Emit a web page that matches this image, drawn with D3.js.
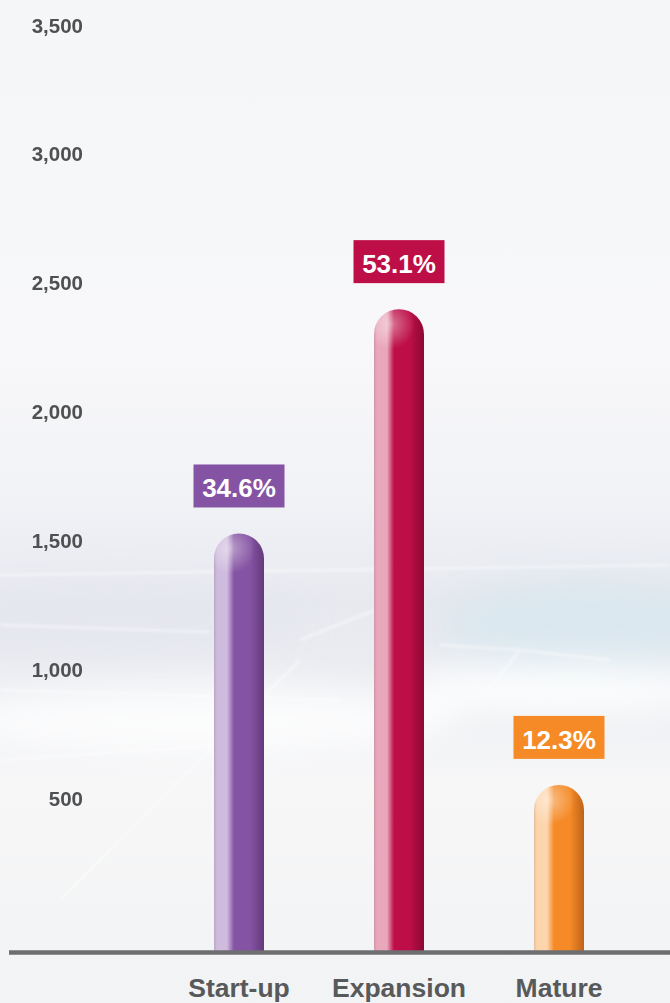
<!DOCTYPE html>
<html>
<head>
<meta charset="utf-8">
<script src="https://cdn.jsdelivr.net/npm/d3@7"></script>
<style>
  html, body { margin: 0; padding: 0; background: #f5f6f8; }
  svg { display: block; }
  .tick text { font-family: "Liberation Sans", Arial, sans-serif; font-weight: bold; }
</style>
</head>
<body>
<div id="chart"></div>
<script>
const categories = ["Start-up", "Expansion", "Mature"];
const values = [1530, 2400, 555];
const shares = ["34.6%", "53.1%", "12.3%"];
const yTicks = [500, 1000, 1500, 2000, 2500, 3000, 3500];

const colors = [
    { light: "#cfbbdd", main: "#8553a3", dark: "#633a7c" },
    { light: "#e9a7bc", main: "#bd0e47", dark: "#8c0834" },
    { light: "#fdd5ad", main: "#f58a27", dark: "#bf6319" }
];

const width = 670, height = 1003;
const baseY = 952;
const barWidth = 50;

const svg = d3.select("#chart")
    .append("svg")
    .attr("width", width)
    .attr("height", height);

const defs = svg.append("defs");

// background
const bg = defs.append("linearGradient").attr("id", "bg")
    .attr("x1", 0).attr("y1", 0).attr("x2", 0).attr("y2", 1);
bg.append("stop").attr("offset", 0).attr("stop-color", "#f4f6f8");
bg.append("stop").attr("offset", 0.35).attr("stop-color", "#f8f8fa");
bg.append("stop").attr("offset", 0.5).attr("stop-color", "#f1f2f6");
bg.append("stop").attr("offset", 0.6).attr("stop-color", "#e7e9ef");
bg.append("stop").attr("offset", 0.7).attr("stop-color", "#eceef2");
bg.append("stop").attr("offset", 0.78).attr("stop-color", "#f7f7f8");
bg.append("stop").attr("offset", 1).attr("stop-color", "#f2f3f4");

const blur = defs.append("filter").attr("id", "blur")
    .attr("x", "-50%").attr("y", "-50%").attr("width", "200%").attr("height", "200%");
blur.append("feGaussianBlur").attr("stdDeviation", 18);
const soft = defs.append("filter").attr("id", "soft");
soft.append("feGaussianBlur").attr("stdDeviation", 1.8);

svg.append("rect").attr("width", width).attr("height", height).attr("fill", "url(#bg)");

const haze = svg.append("g").attr("filter", "url(#blur)");
haze.append("ellipse").attr("cx", 590).attr("cy", 625).attr("rx", 150).attr("ry", 45)
    .attr("fill", "#d6e5ed").attr("opacity", 0.75);
haze.append("ellipse").attr("cx", 200).attr("cy", 720).attr("rx", 260).attr("ry", 35)
    .attr("fill", "#ffffff").attr("opacity", 0.8);
haze.append("ellipse").attr("cx", 560).attr("cy", 690).attr("rx", 160).attr("ry", 25)
    .attr("fill", "#ffffff").attr("opacity", 0.9);
haze.append("ellipse").attr("cx", 120).attr("cy", 620).attr("rx", 180).attr("ry", 30)
    .attr("fill", "#e4e6ee").attr("opacity", 0.7);

const streaks = svg.append("g").attr("stroke", "#ffffff").attr("fill", "none")
    .attr("filter", "url(#soft)").attr("opacity", 0.5);
[
    [[0, 575], [670, 565]],
    [[0, 625], [210, 632]],
    [[440, 645], [520, 650], [610, 660]],
    [[520, 650], [480, 700]],
    [[0, 690], [340, 700]],
    [[60, 900], [300, 660]],
    [[0, 760], [230, 745]],
    [[300, 640], [400, 600]]
].forEach(pts => {
    streaks.append("path").attr("d", d3.line()(pts)).attr("stroke-width", 2.5);
});

// scales
const x = d3.scaleBand()
    .domain(categories)
    .range([159, 639])
    .padding(0);

const y = d3.scaleLinear()
    .domain([0, 3500])
    .range([928, 25.5]);

// y axis labels
const yAxis = d3.axisLeft(y)
    .tickValues(yTicks)
    .tickSize(0)
    .tickPadding(0)
    .tickFormat(d3.format(","));

svg.append("g")
    .attr("transform", "translate(83,0)")
    .call(yAxis)
    .call(g => g.select(".domain").remove())
    .call(g => g.selectAll("text")
        .attr("font-size", 20.5)
        .attr("fill", "#4f5052"));

// bar gradients
colors.forEach((c, i) => {
    const g = defs.append("linearGradient").attr("id", "bar" + i)
        .attr("x1", 0).attr("y1", 0).attr("x2", 1).attr("y2", 0);
    g.append("stop").attr("offset", 0).attr("stop-color", d3.color(c.light).darker(0.3));
    g.append("stop").attr("offset", 0.06).attr("stop-color", c.light);
    g.append("stop").attr("offset", 0.26).attr("stop-color", c.light);
    g.append("stop").attr("offset", 0.4).attr("stop-color", c.main);
    g.append("stop").attr("offset", 0.72).attr("stop-color", c.main);
    g.append("stop").attr("offset", 1).attr("stop-color", c.dark);

    const r = defs.append("radialGradient").attr("id", "cap" + i)
        .attr("cx", 0.32).attr("cy", 0.3).attr("r", 0.5);
    r.append("stop").attr("offset", 0).attr("stop-color", "#ffffff").attr("stop-opacity", 0.45);
    r.append("stop").attr("offset", 1).attr("stop-color", "#ffffff").attr("stop-opacity", 0);
});

const barPath = (d, i) => {
    const cx = x(categories[i]) + x.bandwidth() / 2;
    const x0 = cx - barWidth / 2, x1 = cx + barWidth / 2, r = barWidth / 2;
    const top = y(d);
    return `M${x0},${baseY} L${x0},${top + r} A${r},${r} 0 0 1 ${x1},${top + r} L${x1},${baseY} Z`;
};

svg.selectAll(".bar")
    .data(values)
    .enter()
    .append("path")
    .attr("class", "bar")
    .attr("d", barPath)
    .attr("fill", (d, i) => "url(#bar" + i + ")");

svg.selectAll(".cap")
    .data(values)
    .enter()
    .append("circle")
    .attr("class", "cap")
    .attr("cx", (d, i) => x(categories[i]) + x.bandwidth() / 2)
    .attr("cy", d => y(d) + barWidth / 2)
    .attr("r", barWidth / 2)
    .attr("fill", (d, i) => "url(#cap" + i + ")");

// percentage boxes
const boxW = 91, boxH = 43, gap = 26;
const labels = svg.selectAll(".share")
    .data(values)
    .enter()
    .append("g")
    .attr("class", "share")
    .attr("transform", (d, i) => `translate(${x(categories[i]) + x.bandwidth() / 2},${y(d) - gap - boxH})`);

labels.append("rect")
    .attr("x", -boxW / 2)
    .attr("width", boxW)
    .attr("height", boxH)
    .attr("fill", (d, i) => colors[i].main);

labels.append("text")
    .attr("y", boxH - 10)
    .attr("text-anchor", "middle")
    .attr("font-family", "Liberation Sans, Arial, sans-serif")
    .attr("font-weight", "bold")
    .attr("font-size", 26)
    .attr("fill", "#ffffff")
    .text((d, i) => shares[i]);

// baseline
svg.append("line")
    .attr("x1", 9).attr("x2", width)
    .attr("y1", baseY + 0.5).attr("y2", baseY + 0.5)
    .attr("stroke", "#6d6e71")
    .attr("stroke-width", 4.5);

// category labels
const xAxis = d3.axisBottom(x).tickSize(0).tickPadding(0);
svg.append("g")
    .attr("transform", `translate(0,${baseY + 26})`)
    .call(xAxis)
    .call(g => g.select(".domain").remove())
    .call(g => g.selectAll("text")
        .attr("font-size", 26.5)
        .attr("fill", "#58595b"));
</script>
</body>
</html>
